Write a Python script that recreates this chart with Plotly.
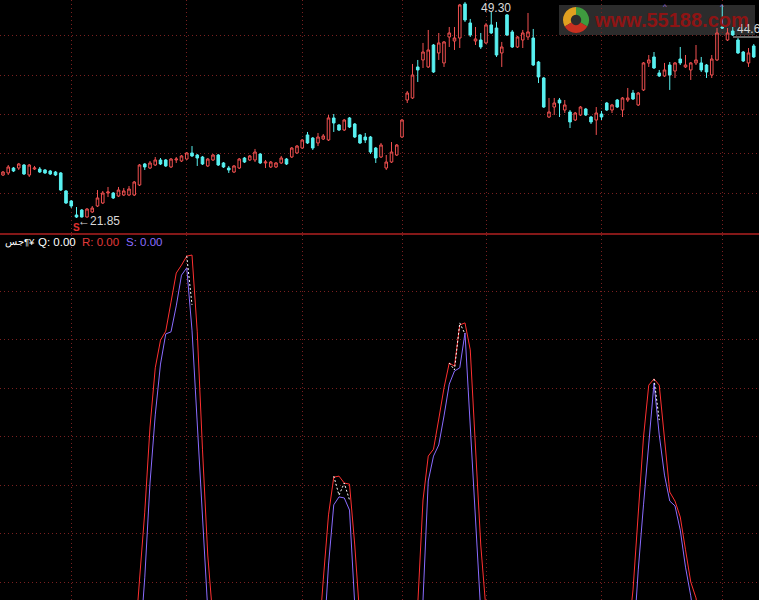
import plotly.graph_objects as go

# K线：每根一个序号（0..143），价格读自截图
opens = [27.31, 27.57, 28.20, 28.20, 28.58, 27.31, 28.07, 28.07, 27.95, 27.82,
         27.69, 27.57, 25.28, 24.01, 22.23, 22.86, 21.97, 22.61, 23.37, 23.75,
         25.02, 25.02, 24.64, 24.77, 24.77, 24.77, 26.04, 28.71, 28.20, 28.58,
         29.22, 29.22, 28.33, 29.22, 29.09, 29.34, 30.11, 29.85, 29.60, 28.46,
         29.22, 29.85, 28.84, 28.20, 27.69, 28.20, 29.47, 29.22, 29.22, 29.98,
         28.84, 28.33, 28.33, 28.84, 29.34, 29.60, 30.11, 30.74, 32.40, 32.01,
         31.38, 31.89, 31.76, 34.56, 33.67, 33.03, 34.56, 33.79, 32.40, 32.14,
         32.14, 30.74, 29.60, 28.20, 28.96, 29.85, 32.14, 36.84, 37.10, 41.04,
         41.93, 41.04, 43.83, 42.82, 41.55, 44.85, 44.34, 44.72, 49.05, 46.63,
         44.34, 44.47, 44.09, 46.38, 45.99, 42.82, 47.65, 45.49, 43.58, 44.47,
         44.85, 44.72, 41.67, 39.64, 34.68, 35.95, 36.84, 35.57, 35.32, 34.30,
         34.94, 35.70, 34.68, 34.30, 35.06, 36.46, 35.57, 36.84, 35.57, 36.84,
         37.73, 36.21, 38.12, 41.55, 42.31, 40.28, 39.90, 41.29, 40.53, 42.05,
         41.04, 40.66, 41.55, 41.55, 41.29, 40.02, 41.93, 46.12, 44.47, 45.61,
         44.47, 42.94, 41.55, 43.71]
highs = [27.82, 28.58, 28.33, 28.84, 28.71, 28.71, 28.46, 28.33, 28.07, 27.95,
         27.82, 27.69, 25.40, 24.13, 23.24, 22.99, 23.11, 23.37, 25.40, 25.28,
         25.79, 25.15, 25.79, 25.66, 25.91, 26.55, 28.71, 28.84, 29.09, 29.60,
         29.47, 29.34, 29.47, 29.60, 29.85, 30.23, 30.99, 29.98, 29.73, 29.47,
         29.98, 29.98, 28.96, 28.46, 28.58, 29.47, 29.60, 29.85, 30.62, 30.11,
         29.22, 29.09, 28.96, 29.73, 29.47, 30.87, 31.12, 31.89, 32.78, 32.14,
         32.65, 32.52, 34.94, 35.06, 33.79, 34.43, 34.68, 33.92, 32.52, 32.65,
         32.27, 30.87, 31.38, 29.85, 31.50, 31.25, 34.43, 37.99, 41.42, 41.93,
         44.09, 45.74, 43.96, 45.36, 44.34, 46.12, 46.12, 49.05, 49.30, 47.14,
         46.12, 45.36, 46.63, 48.03, 46.76, 44.22, 47.77, 45.74, 44.98, 45.74,
         47.90, 45.87, 41.80, 39.77, 37.10, 37.10, 37.10, 36.84, 35.57, 35.32,
         36.08, 35.83, 34.81, 35.95, 35.45, 36.59, 36.34, 36.97, 37.22, 38.37,
         38.12, 37.86, 41.67, 42.56, 42.94, 40.66, 41.55, 41.67, 41.67, 43.58,
         42.56, 41.67, 43.83, 42.31, 41.42, 42.56, 45.99, 48.92, 45.99, 46.12,
         44.72, 43.07, 43.45, 43.96]
lows = [27.18, 27.31, 27.69, 27.95, 27.31, 27.06, 27.95, 27.57, 27.44, 27.31,
        27.18, 25.28, 23.63, 23.11, 21.85, 21.92, 21.90, 22.48, 23.24, 23.63,
        24.51, 24.26, 24.51, 24.64, 24.64, 24.64, 25.91, 27.95, 28.07, 28.46,
        28.58, 28.33, 28.20, 28.84, 28.96, 29.22, 29.60, 28.46, 28.58, 28.33,
        29.09, 28.46, 28.20, 27.57, 27.57, 28.07, 28.84, 29.09, 28.96, 28.71,
        28.20, 28.20, 28.20, 28.71, 28.58, 29.47, 29.98, 30.62, 31.25, 30.49,
        30.99, 31.76, 31.63, 32.78, 32.90, 32.90, 33.28, 32.01, 31.25, 31.38,
        29.98, 28.84, 29.47, 27.95, 28.84, 29.73, 32.01, 36.46, 36.97, 39.13,
        40.91, 40.91, 40.28, 41.93, 41.04, 43.58, 43.20, 43.45, 46.76, 44.85,
        43.83, 43.33, 43.96, 45.23, 42.31, 41.04, 44.98, 43.45, 43.45, 43.45,
        44.47, 41.17, 39.00, 35.83, 34.56, 34.94, 34.68, 35.19, 33.28, 34.17,
        34.81, 34.81, 33.79, 32.40, 34.30, 35.45, 35.19, 35.83, 34.68, 36.59,
        36.84, 36.08, 37.99, 41.04, 40.78, 39.77, 39.77, 38.12, 39.64, 41.29,
        40.91, 39.39, 41.29, 40.40, 39.64, 39.64, 41.80, 45.87, 44.34, 44.98,
        42.69, 41.67, 41.04, 42.18]
closes = [27.69, 28.33, 27.82, 28.71, 27.44, 28.58, 28.20, 27.69, 27.57, 27.44,
          27.31, 25.40, 23.75, 23.37, 21.97, 21.97, 22.99, 23.11, 24.39, 25.02,
          25.15, 24.39, 25.40, 25.28, 25.53, 26.42, 28.58, 28.33, 28.84, 29.22,
          28.71, 28.46, 29.34, 29.34, 29.73, 30.11, 29.73, 29.47, 28.71, 29.34,
          29.85, 28.58, 28.33, 27.95, 28.46, 29.34, 28.96, 29.73, 30.23, 28.84,
          28.96, 28.96, 28.84, 29.47, 28.71, 30.74, 30.99, 31.76, 31.38, 30.74,
          32.14, 32.27, 34.56, 33.92, 33.03, 34.30, 33.41, 32.14, 31.38, 31.76,
          30.23, 29.47, 31.12, 28.96, 30.23, 31.12, 34.30, 37.73, 40.02, 40.66,
          42.94, 43.20, 40.40, 44.09, 44.22, 45.36, 44.72, 48.92, 47.01, 45.10,
          44.60, 43.58, 46.38, 45.36, 42.56, 43.58, 45.10, 43.58, 44.85, 45.36,
          45.49, 41.29, 39.77, 35.95, 35.32, 36.46, 36.46, 36.21, 34.05, 35.19,
          35.95, 34.94, 34.05, 35.19, 34.68, 35.57, 36.21, 35.95, 37.10, 37.10,
          36.97, 37.73, 41.55, 41.93, 40.91, 39.90, 40.66, 40.02, 41.55, 41.55,
          41.29, 41.55, 41.93, 40.66, 40.40, 42.05, 45.36, 45.99, 45.36, 45.10,
          42.82, 41.80, 42.82, 42.31]
bar_index = list(range(len(opens)))

# 月份分界（竖向网格）
month_breaks = [13, 35, 57, 76, 92, 114, 137]

# 副图指标（只列出可见波峰附近，其余在画面下方）
ind_index = [24, 25, 26, 27, 28, 29, 30, 31, 32, 33, 34, 35, 36, 37, 38, 39, 40, 41,
             59, 60, 61, 62, 63, 64, 65, 66, 67, 68, 69,
             78, 79, 80, 81, 82, 83, 84, 85, 86, 87, 88, 89, 90, 91, 92, 93,
             118, 119, 120, 121, 122, 123, 124, 125, 126, 127, 128, 129, 130, 131, 132, 133, 134]
r_vals = [-20, -14.5, 5.8, 25.4, 50.0, 67.1, 75.1, 77.7, 86.1, 94.5, 96.8, 99.4, 99.7, 77.5, 43.4, 13.0, -5.8, -20,
          -20, -14.5, 5.8, 24.6, 35.5, 35.8, 33.8, 33.5, 15.9, -5.8, -20,
          -20, -1.4, 28.9, 41.6, 43.6, 52.3, 61.3, 68.5, 67.6, 79.5, 80.1, 72.3, 45.1, 15.9, -2.9, -20,
          -20, -11.6, 2.9, 24.6, 47.1, 62.1, 63.9, 62.1, 47.1, 31.2, 28.6, 24.0, 14.5, 5.2, 0.6, -8.7, -20]
s_vals = [-20, -20, -14.5, 6.4, 33.8, 53.5, 68.2, 76.9, 77.5, 85.0, 93.9, 96.0, 78.0, 49.7, 21.7, -2.9, -20, -20,
          -20, -20, -14.5, 10.1, 27.5, 29.8, 29.5, 26.0, -1.4, -15, -20,
          -20, -20, 0.0, 34.4, 41.6, 44.8, 53.2, 62.4, 66.2, 67.1, 77.2, 51.2, 21.7, -3.5, -20, -20,
          -20, -20, -14.5, 8.7, 27.5, 44.8, 62.7, 47.7, 36.1, 28.6, 27.2, 20.2, 9.5, 1.2, -8.7, -20, -20]
# Q 其余时段与 S 重合，只在峰顶处露出
q_vals = [None, None, None, None, None, None, None, None, None, None, None, 99.4, 85.3, None, None, None, None, None,
          None, None, None, None, 35.8, 30.3, 33.8, 28.9, None, None, None,
          None, None, None, None, None, None, None, 68.5, 66.5, 80.1, 76.9, None, None, None, None, None,
          None, None, None, None, None, None, 63.9, 52.0, None, None, None, None, None, None, None, None, None]

UP = "#f05050"
DOWN = "#58f0f0"
GRID = "#7a2020"
FONT = "Liberation Sans, Arial, sans-serif"

fig = go.Figure()
fig.add_trace(go.Candlestick(
    x=bar_index, open=opens, high=highs, low=lows, close=closes,
    increasing={"line": {"color": UP, "width": 1}, "fillcolor": "#000000"},
    decreasing={"line": {"color": DOWN, "width": 1}, "fillcolor": DOWN},
    xaxis="x", yaxis="y", showlegend=False, hoverinfo="skip",
))
fig.add_trace(go.Scatter(x=ind_index, y=r_vals, mode="lines", xaxis="x2", yaxis="y2",
                         line={"color": "#ff3030", "width": 1}, showlegend=False))
fig.add_trace(go.Scatter(x=ind_index, y=s_vals, mode="lines", xaxis="x2", yaxis="y2",
                         line={"color": "#8a6cff", "width": 1}, showlegend=False))
fig.add_trace(go.Scatter(x=ind_index, y=q_vals, mode="lines", xaxis="x2", yaxis="y2",
                         line={"color": "#ffffff", "width": 1, "dash": "2px,2px"}, showlegend=False))

# 台标
fig.add_trace(go.Pie(values=[1, 1, 1], marker={"colors": ["#3f9a3f", "#e0a020", "#c83020"]},
                     hole=0.4, sort=False, textinfo="none", showlegend=False, hoverinfo="skip",
                     domain={"x": [562 / 759, 590 / 759], "y": [1 - 33 / 600, 1 - 7 / 600]}))

axis_common = dict(showticklabels=False, ticks="", zeroline=False, showline=False,
                   showgrid=True, gridcolor=GRID, griddash="1px,3px", gridwidth=1)
x_range = [-3 / 5.25, 756 / 5.25]


def label(x, y, text, size=12, color="#d8d8d8"):
    return dict(x=x / 759, y=1 - y / 600, xref="paper", yref="paper", text=text,
                showarrow=False, xanchor="left", yanchor="middle",
                font={"size": size, "color": color})


fig.update_layout(
    width=759, height=600,
    margin={"t": 0, "b": 0, "l": 0, "r": 0},
    paper_bgcolor="#000000", plot_bgcolor="#000000",
    font={"family": FONT, "color": "#d0d0d0", "size": 12},
    xaxis=dict(axis_common, domain=[0, 1], range=x_range, tickvals=month_breaks,
               anchor="y", rangeslider={"visible": False}),
    yaxis=dict(axis_common, domain=[1 - 233 / 600, 1], range=[19.94, 49.55],
               tickvals=[25, 30, 35, 40, 45], anchor="x"),
    xaxis2=dict(axis_common, domain=[0, 1], range=x_range, tickvals=month_breaks, anchor="y2"),
    yaxis2=dict(axis_common, domain=[0, 1 - 235 / 600], range=[0, 105.5],
                tickvals=[5.2, 19.2, 33.2, 47.2, 61.2, 75.2, 89.2], anchor="x2"),
    shapes=[
        {"type": "line", "xref": "paper", "yref": "paper", "x0": 0, "x1": 1,
         "y0": 1 - 234 / 600, "y1": 1 - 234 / 600, "line": {"color": "#b02020", "width": 1.5}},
        {"type": "rect", "xref": "paper", "yref": "paper", "layer": "below",
         "x0": 559 / 759, "x1": 755 / 759, "y0": 1 - 35 / 600, "y1": 1 - 5 / 600,
         "fillcolor": "#2c2c2c", "line": {"width": 0}},
        {"type": "line", "xref": "paper", "yref": "paper", "x0": 733 / 759, "x1": 1,
         "y0": 1 - 37 / 600, "y1": 1 - 37 / 600, "line": {"color": "#c8c8c8", "width": 1}},
    ],
    annotations=[
        dict(x=88, y=49.30, xref="x", yref="y", text="49.30", showarrow=True, arrowhead=0,
             arrowwidth=1, arrowcolor="#c8c8c8", ax=14, ay=6, xanchor="left",
             font={"size": 12, "color": "#d8d8d8"}),
        dict(x=14, y=21.85, xref="x", yref="y", text="←21.85", showarrow=False,
             xanchor="left", xshift=-1, yshift=-3, font={"size": 12, "color": "#d8d8d8"}),
        dict(x=14, y=21.85, xref="x", yref="y", text="<b>S</b>", showarrow=False,
             yshift=-10, font={"size": 10, "color": "#e03030"}),
        dict(x=126, y=49.55, xref="x", yref="y", text="^", showarrow=False, yanchor="top",
             font={"size": 8, "color": "#a070e0"}),
        dict(x=137, y=49.55, xref="x", yref="y", text="^", showarrow=False, yanchor="top",
             font={"size": 8, "color": "#a070e0"}),
        label(735, 29, "44.6"),
        label(592, 20, "<b>www.55188.com</b>", 20, "#8e1414"),
        label(3, 242, "جس¶¥", 9.5, "#ffffff"),
        label(36, 242, "Q: 0.00", 11.5, "#ffffff"),
        label(80, 242, "R: 0.00", 11.5, "#e03a3a"),
        label(124, 242, "S: 0.00", 11.5, "#8a6cff"),
    ],
)

fig.write_html("out.html", config={"displayModeBar": False},
               post_script="document.body.style.margin = '0';")
